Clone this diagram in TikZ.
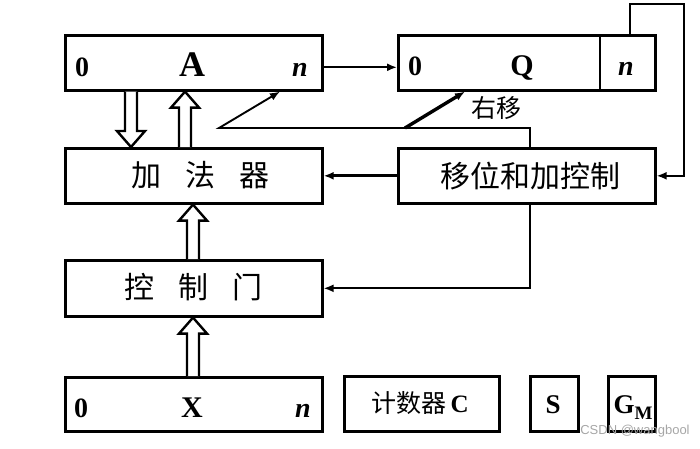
\documentclass[tikz,border=0pt]{standalone}
\usepackage{fontspec}
\setmainfont{Liberation Serif}
\newfontfamily\cjk{Noto Sans CJK SC}
\newfontfamily\wmfont{Liberation Sans}
\usetikzlibrary{calc,arrows.meta}

\tikzset{
	reg/.style={draw, line width=2.6pt, inner sep=0pt, anchor=north west},
	conn/.style={line width=1.9pt, -{Latex[length=10pt,width=8pt]}},
	hollow/.style={draw, fill=white, line width=2.4pt, line join=miter},
	bit/.style={anchor=base, font=\fontsize{28}{28}\selectfont\bfseries},
	regname/.style={anchor=base, font=\fontsize{30}{30}\selectfont\bfseries},
	zh/.style={font=\fontsize{30}{30}\selectfont\cjk},
}

% hollow block arrow between two points on one vertical
\newcommand\hollowarrow[2]{%
	\path[hollow] let \p1=(#1), \p2=(#2), \n1={sign(\y2-\y1)} in
		(\x1-6pt,\y1) -- (\x1-6pt,\y2-\n1*16pt) -- (\x1-14pt,\y2-\n1*16pt)
		-- (\x2,\y2) -- (\x1+14pt,\y2-\n1*16pt) -- (\x1+6pt,\y2-\n1*16pt)
		-- (\x1+6pt,\y1);}

\begin{document}
\begin{tikzpicture}[x=1pt, y=-1pt]
	\useasboundingbox (0,0) rectangle (700,448);

	% registers A and Q
	\node[reg, minimum width=257pt, minimum height=55pt] (A) at (64,34) {};
	\node[bit] (A0) at (82,76) {0};
	\node[regname, font=\fontsize{36}{36}\selectfont\bfseries] (Aname) at (192,76) {A};
	\node[bit, font=\fontsize{28}{28}\selectfont\bfseries\itshape] (An) at (300,76) {n};

	\node[reg, minimum width=257pt, minimum height=55pt] (Q) at (397,34) {};
	\draw[line width=2.6pt] (600,34) -- ++(0,55);
	\node[bit] (Q0) at (415,75) {0};
	\node[regname] (Qname) at (522,75) {Q};
	\node[bit, font=\fontsize{28}{28}\selectfont\bfseries\itshape] (Qn) at (626,75) {n};

	% adder, control
	\node[reg, minimum width=257pt, minimum height=55pt] (adder) at (64,147) {};
	\node[zh] (addertxt) at (200,175) {加\hspace{0.8em}法\hspace{0.8em}器};

	\node[reg, minimum width=257pt, minimum height=55pt] (shift) at (397,147) {};
	\node[zh] (shifttxt) at (530,176) {移位和加控制};

	\node[reg, minimum width=257pt, minimum height=56pt] (gate) at (64,259) {};
	\node[zh] (gatetxt) at (193,287) {控\hspace{0.8em}制\hspace{0.8em}门};

	% bottom row
	\node[reg, minimum width=257pt, minimum height=54pt] (X) at (64,376) {};
	\node[bit] (X0) at (81,417) {0};
	\node[regname] (Xname) at (192,417) {X};
	\node[bit, font=\fontsize{28}{28}\selectfont\bfseries\itshape] (Xn) at (303,417) {n};

	\node[reg, minimum width=155pt, minimum height=55pt] (C) at (343,375) {};
	\node[font=\fontsize{25}{25}\selectfont] (Ctxt) at (420,403) {{\cjk 计数器}\,\textbf{C}};

	\node[reg, minimum width=48pt, minimum height=55pt] (S) at (529,375) {};
	\node[bit, font=\fontsize{27}{27}\selectfont\bfseries] (Stxt) at (553,413) {S};

	\node[reg, minimum width=47pt, minimum height=55pt] (G) at (607,375) {};
	\node[bit, font=\fontsize{27}{27}\selectfont\bfseries] (Gtxt) at (633,413) {G\raisebox{-0.25em}{\fontsize{19}{19}\selectfont M}};

	% connectors
	\coordinate (fb) at (630,4);
	\coordinate (fbr) at (684,4);
	\coordinate (ctl) at (530,0);
	\coordinate (bend) at (219,128);
	\coordinate (tipA) at (280,0);
	\coordinate (sh) at (405,128);
	\coordinate (tipQ) at (465,0);

	\draw[conn] ([yshift=-4.5pt]A.east) -- ([yshift=-4.5pt]Q.west);
	\draw[conn] (Q.north -| fb) |- (fbr) |- (shift.east);
	\draw[conn, line width=2.8pt] (shift.west) -- (adder.east);
	\draw[conn] (shift.north -| ctl) |- (bend) -- (A.south -| tipA);
	\draw[conn] (shift.south -| ctl) |- (gate.east);
	\draw[conn, line width=3.4pt] (sh) -- (Q.south -| tipQ);
	\node[font=\fontsize{25}{25}\selectfont\cjk] (shr) at (496,108) {右移};

	% hollow data paths
	\coordinate (dn) at (131,0);
	\coordinate (up) at (185,0);
	\coordinate (mid) at (193,0);
	\hollowarrow{A.south -| dn}{adder.north -| dn}
	\hollowarrow{adder.north -| up}{A.south -| up}
	\hollowarrow{gate.north -| mid}{adder.south -| mid}
	\hollowarrow{X.north -| mid}{gate.south -| mid}

	\node[font=\fontsize{13}{13}\selectfont\wmfont, text=black!35] (wm) at (635,431) {CSDN @wangbool};
\end{tikzpicture}
\end{document}
